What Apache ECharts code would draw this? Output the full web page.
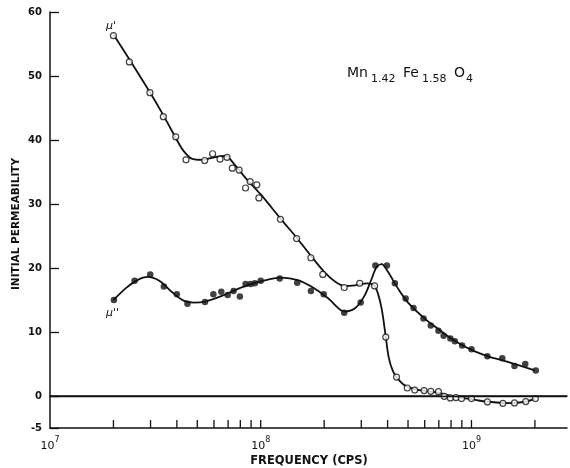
<!DOCTYPE html>
<html>
<head>
<meta charset="utf-8">
<script src="https://cdn.jsdelivr.net/npm/echarts@6/dist/echarts.min.js"></script>
<style>
html,body{margin:0;padding:0;background:#fff;}
#charts{width:570px;height:468px;}
</style>
</head>
<body>
<div id="charts"></div>
<script>
// mu' (open circles) measured points
var muPrimeFreq = [2.0e7, 2.38e7, 2.98e7, 3.45e7, 3.95e7, 4.42e7, 5.42e7, 5.91e7, 6.41e7, 6.92e7, 7.33e7, 7.9e7, 8.47e7, 8.91e7, 9.58e7, 9.8e7, 1.24e8, 1.48e8, 1.73e8, 1.97e8, 2.49e8, 2.95e8, 3.47e8, 3.92e8, 4.41e8, 4.96e8, 5.38e8, 5.96e8, 6.41e8, 6.97e8, 7.43e8, 7.94e8, 8.44e8, 8.97e8, 1.0e9, 1.19e9, 1.41e9, 1.6e9, 1.81e9, 2.01e9];
var muPrimeVal = [56.3, 52.2, 47.4, 43.65, 40.5, 36.9, 36.8, 37.85, 37.0, 37.3, 35.6, 35.3, 32.5, 33.5, 33.0, 30.95, 27.6, 24.6, 21.6, 19.0, 16.95, 17.6, 17.2, 9.2, 2.95, 1.25, 0.93, 0.84, 0.73, 0.68, -0.05, -0.3, -0.25, -0.4, -0.4, -0.93, -1.14, -1.08, -0.87, -0.4];
// mu' fitted curve
var muPrimeCurveFreq = [2.0e7, 2.5e7, 3.0e7, 3.5e7, 4.0e7, 4.3e7, 4.7e7, 5.3e7, 6.0e7, 6.8e7, 7.5e7, 8.5e7, 1.0e8, 1.25e8, 1.5e8, 1.75e8, 2.0e8, 2.25e8, 2.5e8, 2.8e8, 3.2e8, 3.45e8, 3.6e8, 3.75e8, 3.9e8, 4.05e8, 4.25e8, 4.5e8, 4.8e8, 5.5e8, 7.0e8, 8.0e8, 1.0e9, 1.2e9, 1.5e9, 1.8e9, 2.0e9];
var muPrimeCurveVal = [56.5, 51.5, 47.3, 43.5, 40.0, 38.3, 37.1, 36.9, 37.3, 37.5, 36.2, 34.0, 31.5, 27.6, 24.5, 21.7, 19.4, 17.9, 17.2, 17.3, 17.6, 17.3, 16.0, 13.6, 9.8, 6.0, 3.8, 2.6, 1.7, 1.0, 0.5, 0.0, -0.5, -0.9, -1.1, -0.9, -0.4];

// mu'' (filled circles) measured points
var muDoubleFreq = [2.01e7, 2.52e7, 2.99e7, 3.47e7, 4.0e7, 4.49e7, 5.44e7, 5.96e7, 6.5e7, 6.97e7, 7.43e7, 7.96e7, 8.47e7, 8.95e7, 9.38e7, 1.0e8, 1.23e8, 1.49e8, 1.73e8, 1.99e8, 2.49e8, 2.98e8, 3.5e8, 3.97e8, 4.33e8, 4.87e8, 5.31e8, 5.92e8, 6.41e8, 6.97e8, 7.38e8, 7.94e8, 8.34e8, 9.03e8, 1.0e9, 1.19e9, 1.4e9, 1.6e9, 1.8e9, 2.02e9];
var muDoubleVal = [15.0, 18.0, 19.0, 17.1, 15.9, 14.4, 14.7, 15.9, 16.3, 15.8, 16.4, 15.55, 17.5, 17.5, 17.6, 18.0, 18.35, 17.7, 16.4, 15.9, 13.0, 14.6, 20.4, 20.4, 17.6, 15.25, 13.75, 12.1, 11.0, 10.2, 9.4, 9.0, 8.55, 7.9, 7.3, 6.2, 5.9, 4.7, 5.0, 4.0];
// mu'' fitted curve
var muDoubleCurveFreq = [2.0e7, 2.3e7, 2.6e7, 2.9e7, 3.3e7, 3.8e7, 4.3e7, 4.8e7, 5.5e7, 6.5e7, 8.0e7, 1.0e8, 1.25e8, 1.5e8, 1.8e8, 2.1e8, 2.5e8, 2.8e8, 3.1e8, 3.35e8, 3.55e8, 3.75e8, 4.0e8, 4.5e8, 5.0e8, 6.0e8, 7.0e8, 8.0e8, 1.0e9, 1.2e9, 1.5e9, 2.0e9];
var muDoubleCurveVal = [15.0, 16.9, 18.1, 18.6, 18.0, 16.2, 14.9, 14.6, 14.8, 15.6, 16.9, 17.9, 18.5, 18.1, 16.8, 15.2, 13.2, 13.7, 15.6, 18.2, 20.2, 20.6, 19.5, 16.7, 14.6, 12.1, 10.4, 9.0, 7.2, 6.2, 5.3, 4.0];

// axis ticks
var freqTicks = [2e7, 3e7, 4e7, 5e7, 6e7, 7e7, 8e7, 9e7, 1e8, 2e8, 3e8, 4e8, 5e8, 6e8, 7e8, 8e8, 9e8, 1e9, 2e9];
var yTicks = [-5, 0, 10, 20, 30, 40, 50, 60];

var ink = '#111';
var font = 'DejaVu Sans';

function pairs(xs, ys){
	var out = [];
	for(var i=0;i<xs.length;i++){ out.push([xs[i], ys[i]]); }
	return out;
}

var charts = echarts.init(document.getElementById('charts'));
var options = {
	backgroundColor: '#fff',
	animation: false,
	grid: { left: 50, right: 0, top: 12, bottom: 40 },
	xAxis: [{
		type: 'log',
		logBase: 10,
		min: 1e7,
		max: 2.84e9,
		axisLine: { show: true, onZero: false, lineStyle: { color: ink, width: 1.5 } },
		axisTick: { show: false },
		splitLine: { show: false },
		axisLabel: {
			margin: 8,
			color: ink,
			formatter: function(v){
				var e = Math.log10(v);
				if(Math.abs(e - Math.round(e)) > 1e-6) return '';
				return '{b|10}{s|' + Math.round(e) + '}';
			},
			rich: {
				b: { fontFamily: font, fontSize: 11, color: ink, verticalAlign: 'bottom' },
				s: { fontFamily: font, fontSize: 8, color: ink, padding: [0, 0, 8, 0], verticalAlign: 'bottom' }
			}
		}
	}, {
		type: 'value',
		position: 'top',
		min: 0, max: 1,
		axisLine: { show: true, lineStyle: { color: ink, width: 1.5 } },
		axisTick: { show: false },
		axisLabel: { show: false },
		splitLine: { show: false }
	}],
	yAxis: {
		type: 'value',
		min: -5,
		max: 60,
		axisLine: { show: true, onZero: false, lineStyle: { color: ink, width: 1.5 } },
		axisTick: { show: true, inside: true, length: 9, customValues: yTicks, lineStyle: { color: ink, width: 1.3 } },
		axisLabel: { customValues: yTicks, color: ink, fontFamily: font, fontSize: 10, fontWeight: 'bold', margin: 8 },
		splitLine: { show: false }
	},
	graphic: [
		{ type: 'text', x: 16, y: 224, rotation: Math.PI / 2, style: { text: 'INITIAL PERMEABILITY', fontFamily: font, fontSize: 10.5, fontWeight: 'bold', fill: ink, align: 'center', verticalAlign: 'middle' } },
		{ type: 'text', x: 309, y: 461, style: { text: 'FREQUENCY (CPS)', fontFamily: font, fontSize: 11.5, fontWeight: 'bold', fill: ink, align: 'center', verticalAlign: 'middle' } },
		{ type: 'text', left: 347, top: 66, style: { text: 'Mn', fontFamily: font, fontSize: 14, fill: ink } },
		{ type: 'text', left: 371, top: 74, style: { text: '1.42', fontFamily: font, fontSize: 11, fill: ink } },
		{ type: 'text', left: 403, top: 66, style: { text: 'Fe', fontFamily: font, fontSize: 14, fill: ink } },
		{ type: 'text', left: 422, top: 74, style: { text: '1.58', fontFamily: font, fontSize: 11, fill: ink } },
		{ type: 'text', left: 454, top: 66, style: { text: 'O', fontFamily: font, fontSize: 14, fill: ink } },
		{ type: 'text', left: 466, top: 74, style: { text: '4', fontFamily: font, fontSize: 11, fill: ink } },
		{ type: 'text', left: 106, top: 21, style: { text: "\u03bc'", fontFamily: font, fontSize: 11, fontStyle: 'italic', fill: ink } },
		{ type: 'text', left: 106, top: 308, style: { text: "\u03bc''", fontFamily: font, fontSize: 11, fontStyle: 'italic', fill: ink } }
	],
	series: [
		{
			name: "mu' curve",
			type: 'line',
			smooth: 0.3,
			symbol: 'none',
			lineStyle: { color: ink, width: 1.8 },
			data: pairs(muPrimeCurveFreq, muPrimeCurveVal),
			markLine: {
				silent: true,
				symbol: 'none',
				label: { show: false },
				lineStyle: { color: ink, width: 1.3, type: 'solid' },
				data: [{ yAxis: 0 }]
			},
			z: 2
		},
		{
			name: "mu'' curve",
			type: 'line',
			smooth: 0.3,
			symbol: 'none',
			lineStyle: { color: ink, width: 1.8 },
			data: pairs(muDoubleCurveFreq, muDoubleCurveVal),
			z: 2
		},
		{
			name: "mu'",
			type: 'scatter',
			symbol: 'circle',
			symbolSize: 6,
			itemStyle: { color: '#fff', borderColor: ink, borderWidth: 1.2 },
			data: pairs(muPrimeFreq, muPrimeVal),
			z: 3
		},
		{
			name: "mu''",
			type: 'scatter',
			symbol: 'circle',
			symbolSize: 6.5,
			itemStyle: { color: ink },
			data: pairs(muDoubleFreq, muDoubleVal),
			z: 3
		},
		{
			name: 'ticks',
			type: 'custom',
			silent: true,
			data: freqTicks.map(function(v){ return [v, -5]; }),
			renderItem: function(params, api){
				var p = api.coord([api.value(0), -5]);
				return {
					type: 'line',
					shape: { x1: p[0], y1: p[1], x2: p[0], y2: p[1] - 8 },
					style: { stroke: ink, lineWidth: 1.3 }
				};
			},
			z: 2
		}
	]
};
charts.setOption(options);
</script>
</body>
</html>
